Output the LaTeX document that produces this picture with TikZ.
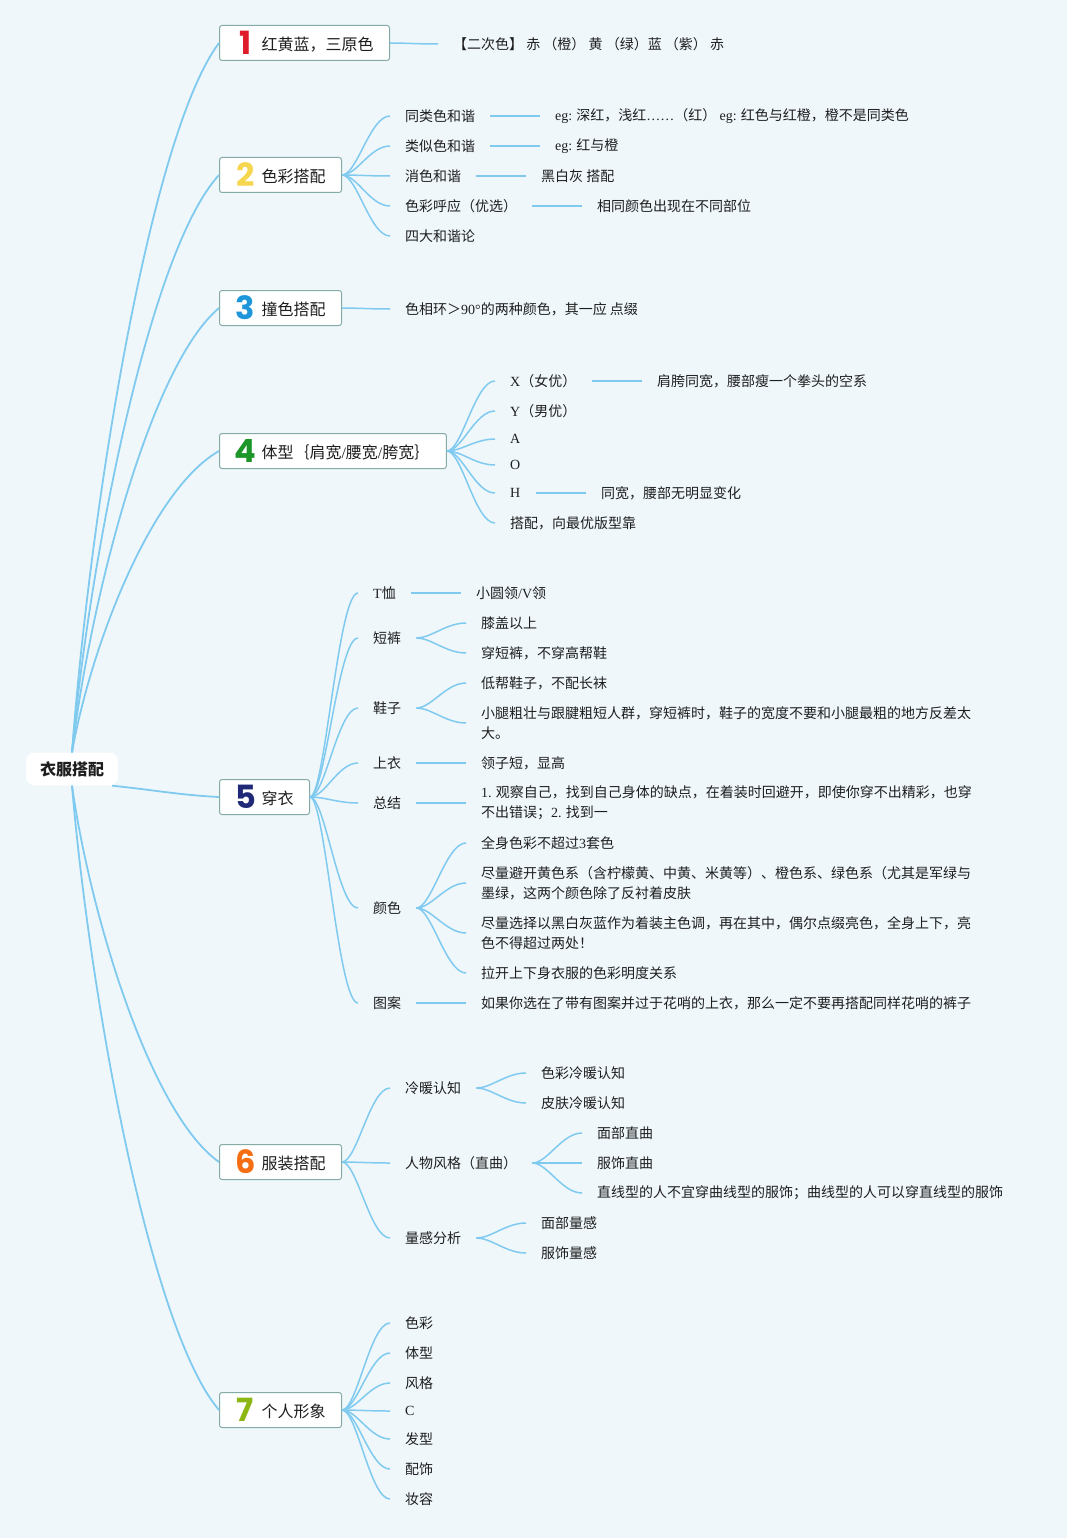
\documentclass[tikz,border=0pt]{standalone}
\usepackage{fontspec}
\usepackage{tikz}
\setmainfont{Liberation Serif}
\newfontfamily\cjk{Noto Sans CJK SC}
\newfontfamily\numfont{Poppins}
\usetikzlibrary{positioning}

\definecolor{paper}{RGB}{239,247,251}
\definecolor{wire}{RGB}{128,202,240}
\definecolor{frame}{RGB}{132,172,166}
\definecolor{ink}{RGB}{30,30,30}
\definecolor{numred}{RGB}{222,28,42}
\definecolor{numyellow}{RGB}{246,214,78}
\definecolor{numblue}{RGB}{30,150,218}
\definecolor{numgreen}{RGB}{28,150,40}
\definecolor{numnavy}{RGB}{32,40,120}
\definecolor{numorange}{RGB}{246,110,20}
\definecolor{numlime}{RGB}{140,182,20}

\newcommand\en[1]{{\rmfamily #1}}
\newcommand\topicnum[2]{\makebox[20pt][c]{\raisebox{-4pt}{\color{#1}\numfont\bfseries\fontsize{32}{32}\selectfont #2}}\hspace{6pt}}

\begin{document}
\begin{tikzpicture}
	[x=1pt,y=1pt,every node/.style={text=ink},
	root/.style={fill=white,rounded corners=9pt,minimum width=92pt,minimum height=33pt,
		font=\cjk\bfseries\fontsize{16}{20}\selectfont},
	topic/.style={draw=frame,fill=white,rounded corners=2.5pt,line width=1pt,anchor=west,
		minimum height=35pt,inner xsep=16pt,font=\cjk\fontsize{16}{20}\selectfont},
	leaf/.style={anchor=west,inner xsep=15pt,inner ysep=2pt,align=left,
		font=\cjk\fontsize{14}{20}\selectfont},
	trunk/.style={draw=wire,line width=1.8pt},
	branch/.style={draw=wire,line width=1.5pt}]
	\fill[paper] (0,0) rectangle (1067,-1538);
	\useasboundingbox (0,0) rectangle (1067,-1538);

	\node[root] (root) at (72,-769) {衣服搭配};
	\node[topic] (b1) at (219,-43) {\topicnum{numred}{1}红黄蓝，三原色};
	\node[topic] (b2) at (219,-175) {\topicnum{numyellow}{2}色彩搭配};
	\node[topic] (b3) at (219,-308) {\topicnum{numblue}{3}撞色搭配};
	\node[topic] (b4) at (219,-451) {\topicnum{numgreen}{4}体型｛肩宽\en{/}腰宽\en{/}胯宽｝};
	\node[topic] (b5) at (219,-797) {\topicnum{numnavy}{5}穿衣};
	\node[topic] (b6) at (219,-1162) {\topicnum{numorange}{6}服装搭配};
	\node[topic] (b7) at (219,-1410) {\topicnum{numlime}{7}个人形象};

	% 1
	\node[leaf] (c1) at (438,-44) {【二次色】 赤 （橙） 黄 （绿）蓝 （紫） 赤};
	% 2
	\node[leaf] (c21) at (390,-116) {同类色和谐};
	\node[leaf] (c22) at (390,-146) {类似色和谐};
	\node[leaf] (c23) at (390,-176) {消色和谐};
	\node[leaf] (c24) at (390,-206) {色彩呼应（优选）};
	\node[leaf] (c25) at (390,-236) {四大和谐论};
	\node[leaf] (d21) at (540,-116) {\en{eg:} 深红，浅红\en{……}（红） \en{eg:} 红色与红橙，橙不是同类色};
	\node[leaf] (d22) at (540,-146) {\en{eg:} 红与橙};
	\node[leaf] (d23) at (526,-176) {黑白灰 搭配};
	\node[leaf] (d24) at (582,-206) {相同颜色出现在不同部位};
	% 3
	\node[leaf] (c3) at (390,-309) {色相环＞\en{90°}的两种颜色，其一应 点缀};
	% 4
	\node[leaf] (c41) at (495,-381) {\en{X}（女优）};
	\node[leaf] (c42) at (495,-411) {\en{Y}（男优）};
	\node[leaf] (c43) at (495,-439) {\en{A}};
	\node[leaf] (c44) at (495,-465) {\en{O}};
	\node[leaf] (c45) at (495,-493) {\en{H}};
	\node[leaf] (c46) at (495,-523) {搭配，向最优版型靠};
	\node[leaf] (d41) at (642,-381) {肩胯同宽，腰部瘦一个拳头的空系};
	\node[leaf] (d45) at (586,-493) {同宽，腰部无明显变化};
	% 5
	\node[leaf] (c51) at (358,-593) {\en{T}恤};
	\node[leaf] (c52) at (358,-638) {短裤};
	\node[leaf] (c53) at (358,-708) {鞋子};
	\node[leaf] (c54) at (358,-763) {上衣};
	\node[leaf] (c55) at (358,-803) {总结};
	\node[leaf] (c56) at (358,-908) {颜色};
	\node[leaf] (c57) at (358,-1003) {图案};
	\node[leaf] (d51) at (461,-593) {小圆领\en{/V}领};
	\node[leaf] (d521) at (466,-623) {膝盖以上};
	\node[leaf] (d522) at (466,-653) {穿短裤，不穿高帮鞋};
	\node[leaf] (d531) at (466,-683) {低帮鞋子，不配长袜};
	\node[leaf] (d532) at (466,-723) {小腿粗壮与跟腱粗短人群，穿短裤时，鞋子的宽度不要和小腿最粗的地方反差太\\大。};
	\node[leaf] (d54) at (466,-763) {领子短，显高};
	\node[leaf] (d55) at (466,-803) {\en{1.} 观察自己，找到自己身体的缺点，在着装时回避开，即使你穿不出精彩，也穿\\不出错误；\en{2.} 找到一};
	\node[leaf] (d561) at (466,-843) {全身色彩不超过\en{3}套色};
	\node[leaf] (d562) at (466,-883) {尽量避开黄色系（含柠檬黄、中黄、米黄等）、橙色系、绿色系（尤其是军绿与\\墨绿，这两个颜色除了反衬着皮肤};
	\node[leaf] (d563) at (466,-933) {尽量选择以黑白灰蓝作为着装主色调，再在其中，偶尔点缀亮色，全身上下，亮\\色不得超过两处！};
	\node[leaf] (d564) at (466,-973) {拉开上下身衣服的色彩明度关系};
	\node[leaf] (d57) at (466,-1003) {如果你选在了带有图案并过于花哨的上衣，那么一定不要再搭配同样花哨的裤子};
	% 6
	\node[leaf] (c61) at (390,-1088) {冷暖认知};
	\node[leaf] (c62) at (390,-1163) {人物风格（直曲）};
	\node[leaf] (c63) at (390,-1238) {量感分析};
	\node[leaf] (d611) at (526,-1073) {色彩冷暖认知};
	\node[leaf] (d612) at (526,-1103) {皮肤冷暖认知};
	\node[leaf] (d621) at (582,-1133) {面部直曲};
	\node[leaf] (d622) at (582,-1163) {服饰直曲};
	\node[leaf] (d623) at (582,-1193) {直线型的人不宜穿曲线型的服饰；曲线型的人可以穿直线型的服饰};
	\node[leaf] (d631) at (526,-1223) {面部量感};
	\node[leaf] (d632) at (526,-1253) {服饰量感};
	% 7
	\node[leaf] (c71) at (390,-1323) {色彩};
	\node[leaf] (c72) at (390,-1353) {体型};
	\node[leaf] (c73) at (390,-1383) {风格};
	\node[leaf] (c74) at (390,-1411) {\en{C}};
	\node[leaf] (c75) at (390,-1439) {发型};
	\node[leaf] (c76) at (390,-1469) {配饰};
	\node[leaf] (c77) at (390,-1499) {妆容};

	% root to topics
	\foreach \b/\d in {b1/710,b2/578,b3/445,b4/302}
	\draw[trunk] (root.north) .. controls +(18,0.34*\d) and +(-69,-0.13*\d) .. (\b.west);
	\foreach \b/\d in {b6/376,b7/624}
	\draw[trunk] (root.south) .. controls +(18,-0.34*\d) and +(-69,0.13*\d) .. (\b.west);
	\draw[trunk] ([xshift=-6pt]root.south east) .. controls +(40,-4) and +(-40,2) .. (b5.west);

	% topics to leaves
	\foreach \from/\to in {b1/c1,b2/c21,b2/c22,b2/c23,b2/c24,b2/c25,c21/d21,c22/d22,c23/d23,c24/d24,
		b3/c3,b4/c41,b4/c42,b4/c43,b4/c44,b4/c45,b4/c46,c41/d41,c45/d45,
		b5/c51,b5/c52,b5/c53,b5/c54,b5/c55,b5/c56,b5/c57,c51/d51,c52/d521,c52/d522,c53/d531,c53/d532,
		c54/d54,c55/d55,c56/d561,c56/d562,c56/d563,c56/d564,c57/d57,
		b6/c61,b6/c62,b6/c63,c61/d611,c61/d612,c62/d621,c62/d622,c62/d623,c63/d631,c63/d632,
		b7/c71,b7/c72,b7/c73,b7/c74,b7/c75,b7/c76,b7/c77}
	\draw[branch] (\from.east) .. controls +(15,0) and +(-20,0) .. (\to.west);
\end{tikzpicture}
\end{document}
